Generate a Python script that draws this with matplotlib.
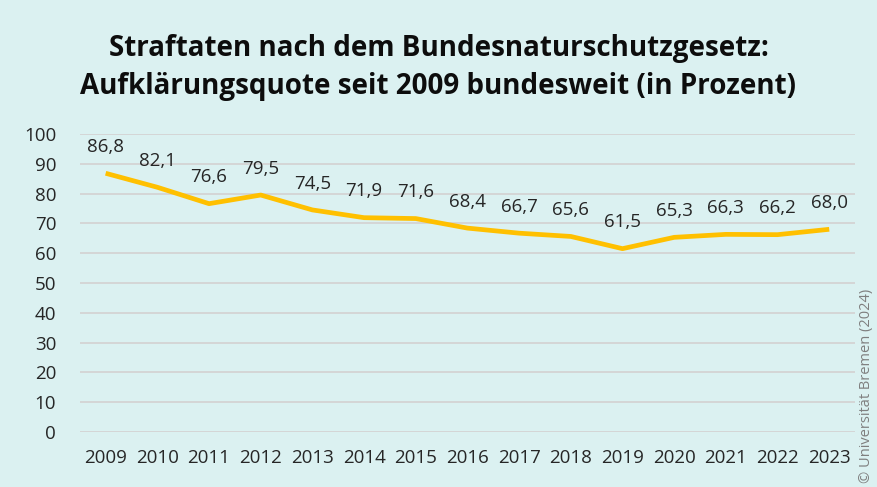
import matplotlib.pyplot as plt
import numpy as np

plt.rcParams['font.family'] = ['Open Sans', 'DejaVu Sans']

years = ['2009', '2010', '2011', '2012', '2013', '2014', '2015', '2016',
         '2017', '2018', '2019', '2020', '2021', '2022', '2023']
quote = [86.8, 82.1, 76.6, 79.5, 74.5, 71.9, 71.6, 68.4,
         66.7, 65.6, 61.5, 65.3, 66.3, 66.2, 68.0]

bg = '#DBF1F1'
fig = plt.figure(figsize=(8.77, 4.87), dpi=100, facecolor=bg)
ax = fig.add_axes([0.091, 0.113, 0.884, 0.612], facecolor=bg)

x = np.arange(len(years))
ax.plot(x, quote, color='#FFC000', lw=3.4, solid_capstyle='butt', zorder=3)
for xi, v in zip(x, quote):
    ax.annotate(f'{v:.1f}'.replace('.', ','), (xi, v), xytext=(0, 19),
                textcoords='offset points', ha='center', va='center',
                fontsize=13.5, color='#262626')

ax.set_xlim(-0.5, len(years) - 0.5)
ax.set_ylim(0, 100)
ax.set_yticks(range(0, 101, 10))
ax.set_xticks(x)
ax.set_xticklabels(years)
ax.grid(axis='y', color='#D4D4D4', lw=1.3)
ax.set_axisbelow(True)
for s in ax.spines.values():
    s.set_visible(False)
ax.tick_params(length=0, labelsize=13.5, colors='#262626')
ax.tick_params(axis='x', pad=12)
ax.tick_params(axis='y', pad=17)

fig.text(0.5, 0.862, 'Straftaten nach dem Bundesnaturschutzgesetz:\nAufklärungsquote seit 2009 bundesweit (in Prozent)',
         ha='center', va='center', fontsize=20, fontweight='bold',
         color='#0D0D0D', linespacing=1.4)
fig.text(0.997, 0.008, '© Universität Bremen (2024)', rotation=90,
         ha='right', va='bottom', fontsize=10.5, color='#7F7F7F')

fig.savefig('out.png', facecolor=bg)
